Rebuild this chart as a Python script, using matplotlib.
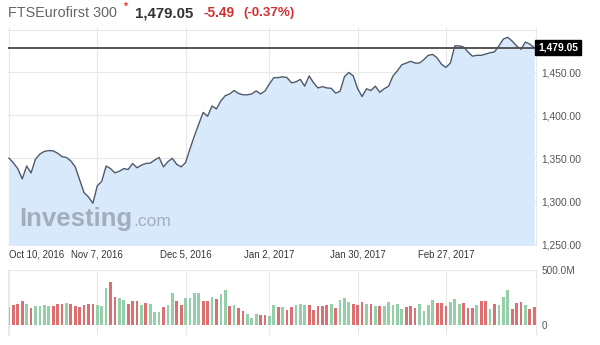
import matplotlib.pyplot as plt
from matplotlib.transforms import blended_transform_factory

plt.rcParams['font.family'] = ['Liberation Sans', 'DejaVu Sans']

# FTSEurofirst 300 daily closes, Oct 10 2016 .. Mar 2017
price = [1350.2, 1344.7, 1337.8, 1326, 1341, 1333, 1349, 1355, 1358, 1359,
         1358.7, 1356, 1352, 1351, 1347, 1340, 1325, 1310, 1305, 1297.6,
         1318, 1323, 1341, 1338, 1333, 1335, 1338, 1337, 1344, 1339,
         1342, 1344, 1344.4, 1348, 1351, 1340, 1346, 1350, 1343, 1340,
         1345, 1361, 1376, 1390, 1403.5, 1399, 1411, 1407.5, 1417, 1423,
         1425, 1429, 1425.6, 1424, 1424, 1425, 1428.5, 1425, 1428.5, 1436.6,
         1444, 1444, 1445, 1444, 1438, 1439, 1442, 1434, 1446, 1438,
         1432, 1433.5, 1432, 1431.6, 1426, 1428, 1445, 1450, 1446, 1431,
         1422, 1431, 1429, 1434, 1427, 1431, 1434, 1446, 1452, 1459,
         1461, 1463, 1461, 1461, 1465, 1470, 1471, 1467, 1459.5, 1456,
         1461, 1481, 1481, 1479.7, 1474, 1469, 1470, 1470, 1471.5, 1473,
         1474, 1481, 1489, 1491, 1486.6, 1481, 1477, 1485.5, 1483, 1479.05]

# volume in millions
volume = [168, 186, 195, 220, 189, 152, 177, 177, 180, 171,
          177, 195, 189, 204, 189, 171, 162, 186, 195, 195,
          186, 171, 335, 387, 256, 244, 229, 195, 214, 220,
          183, 204, 189, 122, 122, 168, 180, 287, 214, 180,
          241, 241, 293, 293, 214, 214, 250, 232, 281, 317,
          171, 180, 156, 128, 98, 67, 104, 95, 95, 85,
          180, 165, 165, 137, 162, 180, 189, 180, 180, 137,
          171, 171, 183, 189, 156, 223, 241, 207, 189, 183,
          207, 189, 189, 171, 171, 171, 207, 180, 189, 146,
          165, 171, 152, 189, 128, 180, 223, 198, 198, 171,
          207, 232, 189, 198, 156, 156, 180, 220, 214, 146,
          189, 180, 250, 317, 146, 198, 207, 180, 146, 165]

# g = up day, r = down day
direction = ("grrrgrggggrrrgrrrrrr" "gggrrggrrrgrgggrggrr" "ggggrrgrggrgrrgggrrg"
             "grgrrgggrrrrrgrgggrr" "rgrgrgggggrrrggggrrr" "gggrrrgrrgrgggrrrgrr")

date_pos = [0, 20, 40, 59, 79, 99]
date_labels = ["Oct 10, 2016", "Nov 7, 2016", "Dec 5, 2016",
               "Jan 2, 2017", "Jan 30, 2017", "Feb 27, 2017"]
price_ticks = [1250, 1300, 1350, 1400, 1450]
last = 1479.05

x = list(range(len(price)))
grid_c = '#e8e8e8'
txt_c = '#555555'

fig = plt.figure(figsize=(6, 3.45), dpi=100)

# main price panel
ax = fig.add_axes([8/600, 1-245/345, 528/600, 218/345])
ax.fill_between(x, price, 1200, color='#d8e9fb', lw=0)
ax.plot(x, price, color='#4e5a6c', lw=1)
ax.axhline(last, color='#555555', lw=1.4)
ax.axhline(1500, color=grid_c, lw=0.8, zorder=0)
ax.set_xlim(-0.23, 119.4)
ax.set_ylim(1249, 1503)
ax.set_yticks(price_ticks)
ax.set_yticklabels([f"{v:,.2f}" for v in price_ticks])
ax.yaxis.tick_right()
ax.set_xticks(date_pos)
ax.set_xticklabels(date_labels)
ax.tick_params(length=0, labelsize=7.4, colors=txt_c, pad=4)
ax.tick_params(axis='x', pad=3, colors='#333333', labelsize=6.9)
ax.get_xticklabels()[0].set_ha('left')
ax.grid(True, color=grid_c, lw=0.8)
ax.set_axisbelow(True)
for s in ax.spines.values():
    s.set_visible(False)
ax.spines['right'].set_visible(True)
ax.spines['right'].set_color(grid_c)

tr = blended_transform_factory(ax.transAxes, ax.transData)
ax.text(1.004, last, f"{last:,.2f}", transform=tr, ha='left', va='center',
        color='white', fontsize=7.4, fontweight='bold',
        bbox=dict(facecolor='black', edgecolor='black', pad=2.0))

# watermark
ax.text(0.022, 0.085, "Investing", transform=ax.transAxes, fontsize=18.5,
        fontweight='bold', color='#a3aebd', ha='left', va='baseline')
ax.text(0.237, 0.085, ".com", transform=ax.transAxes, fontsize=12.5,
        color='#a3aebd', ha='left', va='baseline')

# volume panel
axv = fig.add_axes([8/600, 1-335/345, 528/600, 65/345])
colors = ['#94cfa9' if d == 'g' else '#dc7070' for d in direction]
axv.bar(x, volume, width=0.62, color=colors)
axv.axhline(500, color=grid_c, lw=0.8, zorder=0)
axv.set_xlim(-0.23, 119.4)
axv.set_ylim(-91, 500)
axv.set_xticks(date_pos)
axv.set_xticklabels([])
axv.set_yticks([0, 500])
axv.set_yticklabels(["0", "500.0M"])
axv.yaxis.tick_right()
axv.tick_params(length=0, labelsize=7.2, colors=txt_c, pad=4)
axv.grid(True, axis='x', color=grid_c, lw=0.8)
axv.set_axisbelow(True)
for s in axv.spines.values():
    s.set_visible(False)
axv.spines['right'].set_visible(True)
axv.spines['right'].set_color(grid_c)
axv.spines['left'].set_visible(True)
axv.spines['left'].set_color(grid_c)

# header
ty = 1 - 13/345
fig.text(8/600, ty, "FTSEurofirst 300", fontsize=10.4, color='#666666', va='center')
fig.text(124/600, 1 - 7/345, "*", fontsize=7, color='#e03030', va='center',
         fontweight='bold')
fig.text(135/600, ty, "1,479.05", fontsize=10.8, color='#333333', va='center',
         fontweight='bold')
fig.text(203/600, ty, "-5.49", fontsize=9.8, color='#d32f2f', va='center',
         fontweight='bold')
fig.text(243/600, ty, "(-0.37%)", fontsize=9.6, color='#d32f2f', va='center',
         fontweight='bold')

fig.savefig('out.png', dpi=100)
